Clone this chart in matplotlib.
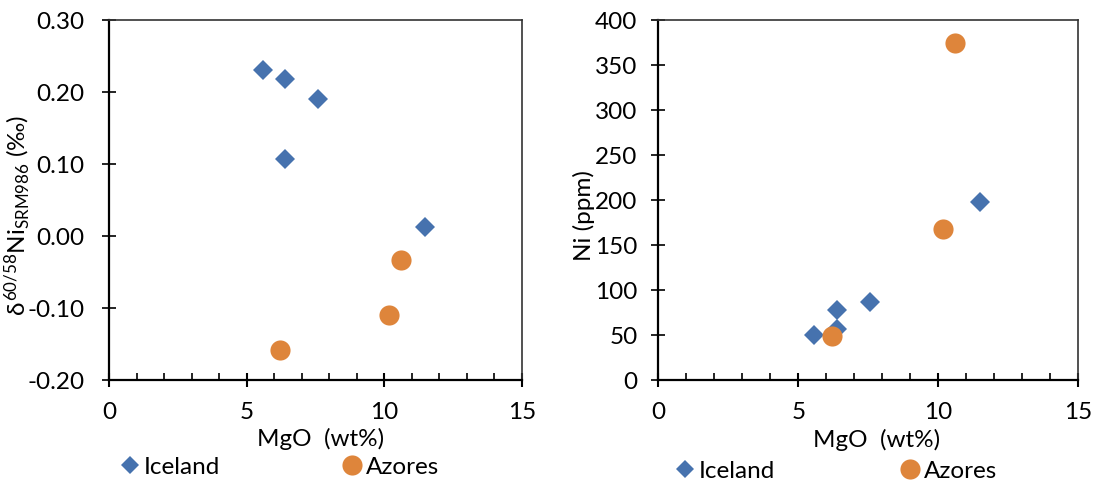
import matplotlib
matplotlib.use("Agg")
import matplotlib.pyplot as plt
from matplotlib.ticker import MultipleLocator, FormatStrFormatter

plt.rcParams['font.family'] = ['Lato', 'DejaVu Sans']
plt.rcParams['mathtext.fontset'] = 'custom'
plt.rcParams['mathtext.rm'] = 'Lato'
plt.rcParams['mathtext.it'] = 'Lato'

# Iceland
ice_mgo = [5.58, 6.38, 7.58, 6.39, 11.49]
ice_d60 = [0.231, 0.218, 0.190, 0.107, 0.013]
ice_ni_mgo = [5.57, 6.39, 6.39, 7.56, 11.48]
ice_ni = [50, 78, 57, 87, 198]
# Azores
az_mgo = [10.61, 10.18, 6.19]
az_d60 = [-0.034, -0.110, -0.158]
az_ni_mgo = [6.19, 10.17, 10.60]
az_ni = [49, 168, 375]

blue = '#4672AE'
orange = '#DE853B'
FS = 17.5

fig = plt.figure(figsize=(10.97, 4.86), dpi=100)
ax1 = fig.add_axes([0.0996, 0.2181, 0.3762, 0.7407])
ax2 = fig.add_axes([0.6001, 0.2181, 0.3829, 0.7407])

def style(ax, ypad):
    for s in ['left', 'bottom']:
        ax.spines[s].set_linewidth(1.6)
        ax.spines[s].set_color('black')
    for s in ['top', 'right']:
        ax.spines[s].set_linewidth(1.2)
        ax.spines[s].set_color('#333333')
    ax.set_xlim(0, 15)
    ax.xaxis.set_major_locator(MultipleLocator(5))
    ax.xaxis.set_minor_locator(MultipleLocator(1))
    ax.tick_params(axis='x', which='major', direction='inout', length=10, width=1.5,
                   labelsize=FS, pad=11, top=False)
    ax.tick_params(axis='x', which='minor', direction='in', length=5, width=1.2, top=False)
    ax.tick_params(axis='y', which='major', direction='inout', length=10, width=1.2,
                   labelsize=FS, pad=ypad, right=False)

style(ax1, 13)
style(ax2, 10)

ms_d = 10.4
ms_o = 14.5
ax1.plot(ice_mgo, ice_d60, 'D', color=blue, ms=ms_d, mew=0, label='Iceland', clip_on=False, zorder=3)
ax1.plot(az_mgo, az_d60, 'o', color=orange, ms=ms_o, mew=0, label='Azores', clip_on=False, zorder=3)
ax1.set_ylim(-0.20, 0.30)
ax1.yaxis.set_major_locator(MultipleLocator(0.10))
ax1.yaxis.set_major_formatter(FormatStrFormatter('%.2f'))
ax1.set_ylabel(r'$\delta^{60/58}$Ni$_{\mathrm{SRM986}}$ (‰)', fontsize=FS, va='center')
ax1.yaxis.set_label_coords(-0.222, 0.456)
ax1.set_xlabel('MgO  (wt%)', fontsize=FS, va='center')
ax1.xaxis.set_label_coords(0.512, -0.163)

ax2.plot(ice_ni_mgo, ice_ni, 'D', color=blue, ms=ms_d, mew=0, label='Iceland', clip_on=False, zorder=3)
ax2.plot(az_ni_mgo, az_ni, 'o', color=orange, ms=ms_o, mew=0, label='Azores', clip_on=False, zorder=3)
ax2.set_ylim(0, 400)
ax2.yaxis.set_major_locator(MultipleLocator(50))
ax2.set_ylabel('Ni (ppm)', fontsize=FS, va='center')
ax2.yaxis.set_label_coords(-0.177, 0.456)
ax2.set_xlabel('MgO  (wt%)', fontsize=FS, va='center')
ax2.xaxis.set_label_coords(0.52, -0.166)

# legends: one entry each, placed under each panel
def entry(ax, idx, xpix, ypix, scale):
    h, lab = ax.get_legend_handles_labels()
    leg = fig.legend([h[idx]], [lab[idx]], loc='center left',
                     bbox_to_anchor=(xpix / 1097, 1 - ypix / 486),
                     frameon=False, fontsize=FS, handletextpad=0.2,
                     handlelength=0.75, borderpad=0, borderaxespad=0,
                     markerscale=scale)
    return leg

entry(ax1, 0, 121, 467, 0.85)
entry(ax1, 1, 343, 467, 1.0)
entry(ax2, 0, 676, 471, 0.85)
entry(ax2, 1, 901, 471, 1.0)

fig.savefig('out.png', dpi=100)
